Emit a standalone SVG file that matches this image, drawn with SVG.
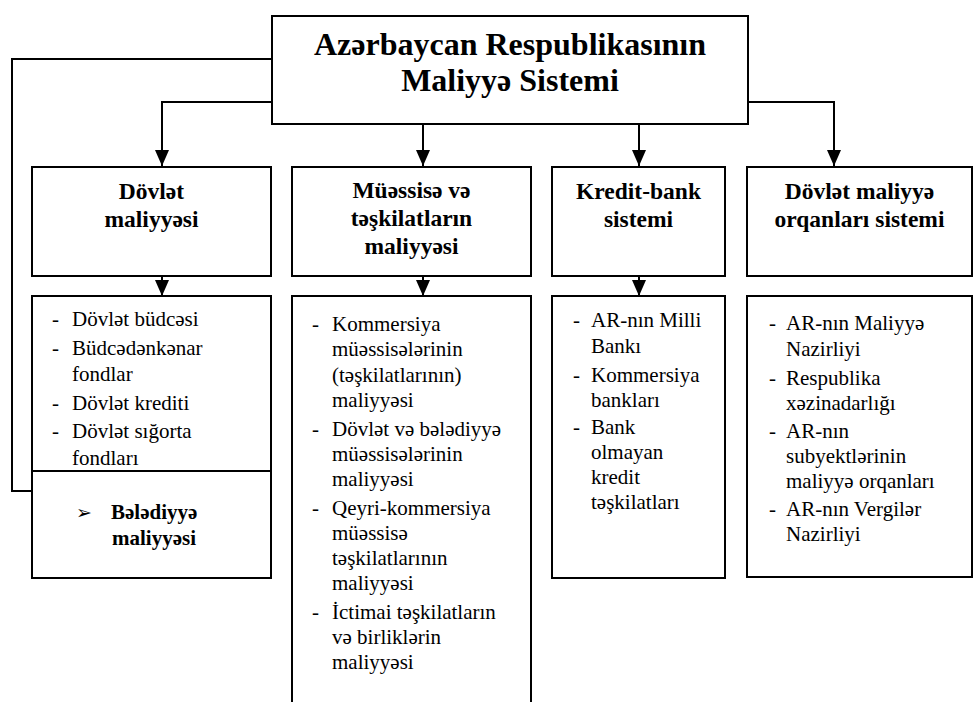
<svg xmlns="http://www.w3.org/2000/svg" width="974" height="702" viewBox="0 0 974 702">
<style>
.box{fill:#fff;stroke:#000;stroke-width:2}
.ln{fill:none;stroke:#000;stroke-width:2}
text{font-family:'Liberation Serif','Times New Roman',serif}
.title{font-weight:bold;font-size:32px;text-anchor:middle}
.hd{font-weight:bold;font-size:23.5px;text-anchor:middle}
.li{font-size:21px}
.bl{font-weight:bold;font-size:21px}
.sym{font-family:'DejaVu Sans',sans-serif;font-size:19px}
</style>
<defs>
<marker id="arr" markerUnits="userSpaceOnUse" markerWidth="16" markerHeight="14" refX="16" refY="7" orient="auto">
<path d="M0,0 L16,7 L0,14 z" fill="#000"/>
</marker>
</defs>
<rect width="974" height="702" fill="#fff"/>
<g id="connectors">
<path class="ln" d="M272,102 H162 V166" marker-end="url(#arr)"/>
<path class="ln" d="M423,124 V166" marker-end="url(#arr)"/>
<path class="ln" d="M639,124 V166" marker-end="url(#arr)"/>
<path class="ln" d="M748,102 H834 V166" marker-end="url(#arr)"/>
<path class="ln" d="M272,59 H12 V491 H32"/>
<path class="ln" d="M162,276 V296" marker-end="url(#arr)"/>
<path class="ln" d="M423,276 V296" marker-end="url(#arr)"/>
<path class="ln" d="M639,276 V296" marker-end="url(#arr)"/>
</g>
<g id="root">
<rect class="box" x="272" y="16" width="476" height="108"/>
<text class="title" x="510" y="55">Azərbaycan Respublikasının</text>
<text class="title" x="510" y="91">Maliyyə Sistemi</text>
</g>
<g id="h1">
<rect class="box" x="32" y="167" width="239" height="109"/>
<text class="hd" x="151.5" y="199">Dövlət</text>
<text class="hd" x="151.5" y="227">maliyyəsi</text>
</g>
<g id="h2">
<rect class="box" x="292" y="167" width="239" height="109"/>
<text class="hd" x="411.5" y="198">Müəssisə və</text>
<text class="hd" x="411.5" y="226">təşkilatların</text>
<text class="hd" x="411.5" y="254">maliyyəsi</text>
</g>
<g id="h3">
<rect class="box" x="552" y="167" width="173" height="109"/>
<text class="hd" x="638.5" y="199">Kredit-bank</text>
<text class="hd" x="638.5" y="227">sistemi</text>
</g>
<g id="h4">
<rect class="box" x="747" y="167" width="225" height="109"/>
<text class="hd" x="859.5" y="199">Dövlət maliyyə</text>
<text class="hd" x="859.5" y="227">orqanları sistemi</text>
</g>
<g id="l1">
<rect class="box" x="32" y="296" width="239" height="282"/>
<line class="ln" x1="32" y1="471" x2="271" y2="471"/>
<text class="li"><tspan x="52" y="326">-</tspan><tspan x="72" y="326">Dövlət büdcəsi</tspan><tspan x="52" y="355">-</tspan><tspan x="72" y="355">Büdcədənkənar</tspan><tspan x="72" y="381">fondlar</tspan><tspan x="52" y="410">-</tspan><tspan x="72" y="410">Dövlət krediti</tspan><tspan x="52" y="438">-</tspan><tspan x="72" y="438">Dövlət sığorta</tspan><tspan x="72" y="465">fondları</tspan></text>
<text class="sym" x="76" y="519">➢</text>
<text class="bl"><tspan x="111" y="519">Bələdiyyə</tspan><tspan x="112" y="545">maliyyəsi</tspan></text>
</g>
<g id="l2">
<path class="ln" d="M292,704 V296 H531 V704"/>
<text class="li"><tspan x="312" y="331">-</tspan><tspan x="332" y="331">Kommersiya</tspan><tspan x="332" y="356">müəssisələrinin</tspan><tspan x="332" y="382">(təşkilatlarının)</tspan><tspan x="332" y="407">maliyyəsi</tspan><tspan x="312" y="436">-</tspan><tspan x="332" y="436">Dövlət və bələdiyyə</tspan><tspan x="332" y="461">müəssisələrinin</tspan><tspan x="332" y="486">maliyyəsi</tspan><tspan x="312" y="515">-</tspan><tspan x="332" y="515">Qeyri-kommersiya</tspan><tspan x="332" y="540">müəssisə</tspan><tspan x="332" y="565">təşkilatlarının</tspan><tspan x="332" y="590">maliyyəsi</tspan><tspan x="312" y="619">-</tspan><tspan x="332" y="619">İctimai təşkilatların</tspan><tspan x="332" y="644">və birliklərin</tspan><tspan x="332" y="669">maliyyəsi</tspan></text>
</g>
<g id="l3">
<rect class="box" x="552" y="296" width="173" height="282"/>
<text class="li"><tspan x="573" y="327">-</tspan><tspan x="591" y="327">AR-nın Milli</tspan><tspan x="591" y="353">Bankı</tspan><tspan x="573" y="382">-</tspan><tspan x="591" y="382">Kommersiya</tspan><tspan x="591" y="407">bankları</tspan><tspan x="573" y="434">-</tspan><tspan x="591" y="434">Bank</tspan><tspan x="591" y="459">olmayan</tspan><tspan x="591" y="484">kredit</tspan><tspan x="591" y="509">təşkilatları</tspan></text>
</g>
<g id="l4">
<rect class="box" x="747" y="296" width="225" height="281"/>
<text class="li"><tspan x="769" y="330">-</tspan><tspan x="786" y="330">AR-nın Maliyyə</tspan><tspan x="786" y="356">Nazirliyi</tspan><tspan x="769" y="385">-</tspan><tspan x="786" y="385">Respublika</tspan><tspan x="786" y="410">xəzinadarlığı</tspan><tspan x="769" y="438">-</tspan><tspan x="786" y="438">AR-nın</tspan><tspan x="786" y="463">subyektlərinin</tspan><tspan x="786" y="488">maliyyə orqanları</tspan><tspan x="769" y="516">-</tspan><tspan x="786" y="516">AR-nın Vergilər</tspan><tspan x="786" y="541">Nazirliyi</tspan></text>
</g>
</svg>
